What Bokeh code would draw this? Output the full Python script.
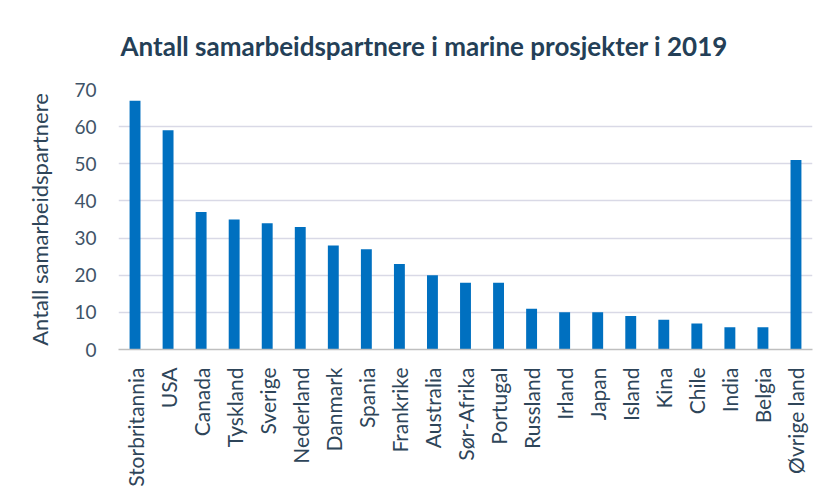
import math
from bokeh.plotting import figure
from bokeh.models import FactorRange, Range1d, FixedTicker, ColumnDataSource
from bokeh.embed import file_html
from bokeh.resources import INLINE

countries = ["Storbritannia", "USA", "Canada", "Tyskland", "Sverige", "Nederland",
             "Danmark", "Spania", "Frankrike", "Australia", "Sør-Afrika", "Portugal",
             "Russland", "Irland", "Japan", "Island", "Kina", "Chile", "India",
             "Belgia", "Øvrige land"]
partners = [67, 59, 37, 35, 34, 33, 28, 27, 23, 20, 18, 18, 11, 10, 10, 9, 8, 7, 6, 6, 51]
y_ticks = [0, 10, 20, 30, 40, 50, 60, 70]

FONT = "Lato"
source = ColumnDataSource(data=dict(country=countries, value=partners))

p = figure(width=821, height=489, output_backend="svg", toolbar_location=None,
           x_range=FactorRange(*countries, range_padding=0),
           y_range=Range1d(0, 70),
           title="Antall samarbeidspartnere i marine prosjekter i 2019",
           min_border_left=118, min_border_right=9, min_border_top=89,
           min_border_bottom=140)

p.vbar(x="country", top="value", width=0.33, source=source,
       fill_color="#0070C0", line_color=None)

p.title.text_font = FONT
p.title.text_font_size = "26px"
p.title.text_font_style = "bold"
p.title.text_color = "#243F57"
p.title.align = "left"
p.title.offset = 2
p.title.standoff = 55

p.outline_line_color = None
p.xgrid.grid_line_color = None
p.ygrid.grid_line_color = "#D9D9E6"
p.ygrid.grid_line_width = 1.5

p.yaxis.ticker = FixedTicker(ticks=y_ticks)
p.yaxis.axis_line_color = None
p.yaxis.major_tick_line_color = None
p.yaxis.minor_tick_line_color = None
p.yaxis.major_label_text_font = FONT
p.yaxis.major_label_text_font_size = "19px"
p.yaxis.major_label_text_color = "#3F5468"
p.yaxis.major_label_standoff = 16
p.yaxis.axis_label = "Antall samarbeidspartnere"
p.yaxis.axis_label_text_font = FONT
p.yaxis.axis_label_text_font_size = "22px"
p.yaxis.axis_label_text_font_style = "normal"
p.yaxis.axis_label_text_color = "#2E4559"
p.yaxis.axis_label_standoff = 18

p.xaxis.axis_line_color = "#BFBFBF"
p.xaxis.axis_line_width = 1.5
p.xaxis.major_tick_line_color = None
p.xaxis.minor_tick_line_color = None
p.xaxis.major_label_orientation = math.pi / 2
p.xaxis.major_label_text_font = FONT
p.xaxis.major_label_text_font_size = "21px"
p.xaxis.major_label_text_color = "#2E4559"
p.xaxis.major_label_standoff = 12

open("out.html", "w").write(file_html(p, INLINE))
